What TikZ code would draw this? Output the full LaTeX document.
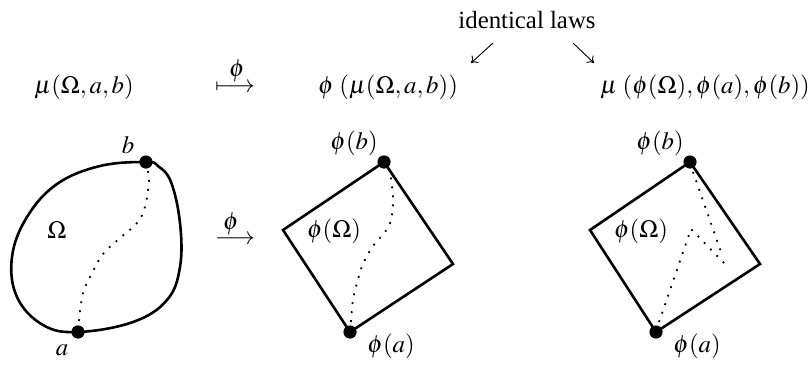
\documentclass[tikz,border=0pt]{standalone}
\usepackage{mathptmx}
\usepackage{fontspec}
\setmainfont{Liberation Serif}
\usetikzlibrary{arrows.meta}
\begin{document}
\begin{tikzpicture}[x=0.5pt,y=-0.5pt,
  every node/.style={font=\fontsize{12.4}{14}\selectfont, inner sep=0pt},
  outline/.style={line width=1.3pt, line join=miter},
  dotline/.style={line width=0.9pt, dash pattern=on 0.9pt off 3.6pt},
  pt/.style={circle, fill=black, minimum size=6.6pt, inner sep=0pt},
  lawarrow/.style={-{To[length=3pt,width=5pt]}, line width=0.45pt}]
\useasboundingbox (0,0) rectangle (812,365);
% top row
\node (laws) at (527,20) {identical laws};
\node[anchor=base] (muL) at (84,93) {$\mu(\Omega,a,b)$};
\node (mapsto) at (235,88) {$\longmapsto$};
\node (mapphi) at (237,71) {$\phi$};
\node[anchor=base] (phimu) at (388,93) {$\phi\,\left(\mu(\Omega,a,b)\right)$};
\node[anchor=base] (muphi) at (705,93) {$\mu\,\left(\phi(\Omega),\phi(a),\phi(b)\right)$};
\coordinate (l1) at (493,43); \coordinate (l2) at (471,63);
\coordinate (r1) at (573,43); \coordinate (r2) at (594,63);
\draw[lawarrow] (l1) -- (l2);
\draw[lawarrow] (r1) -- (r2);
% left blob
\coordinate (a) at (78,332);
\coordinate (b) at (146,162);
\draw[outline] plot[smooth cycle, tension=0.65] coordinates {(78,332) (133,322) (167,300) (180,267) (180,223) (171,182) (158,166) (146,162) (100,166) (57,184) (27,217) (12,257) (17,297) (43,325)};
\draw[dotline] plot[smooth, tension=0.6] coordinates {(79,321) (83,293) (92,273) (103,254) (120,238) (137,223) (145,207) (149,180) (147,168)};
\node[pt] (pa) at (a) {};
\node[pt] (pb) at (b) {};
\node (la) at (62,350) {$a$};
\node (lb) at (128,145) {$b$};
\node (lO) at (57,230) {$\Omega$};
\node (arr) at (235,240) {$\longrightarrow$};
\node (arrphi) at (231,224) {$\phi$};
% middle square
\coordinate (mB) at (384,162); \coordinate (mR) at (453,264);
\coordinate (mA) at (350,332); \coordinate (mL) at (283,230);
\draw[outline] (mB) -- (mR) -- (mA) -- (mL) -- cycle;
\draw[dotline] plot[smooth, tension=0.6] coordinates {(351,322) (353,300) (357,283) (363,264) (373,246) (385,232) (391,220) (393,198) (390,172)};
\node[pt] (mpa) at (mA) {};
\node[pt] (mpb) at (mB) {};
\node (mla) at (391,346) {$\phi(a)$};
\node (mlb) at (354,143) {$\phi(b)$};
\node (mlO) at (334,231) {$\phi(\Omega)$};
% right square
\coordinate (rB) at (690,162); \coordinate (rR) at (760,264);
\coordinate (rA) at (656,332); \coordinate (rL) at (590,230);
\draw[outline] (rB) -- (rR) -- (rA) -- (rL) -- cycle;
\coordinate (rp) at (691,229); \coordinate (re) at (726,265); \coordinate (rf) at (721,252);
\draw[dotline] (659,322) -- (rp) -- (re);
\draw[dotline] (693,172) -- (rf);
\node[pt] (rpa) at (rA) {};
\node[pt] (rpb) at (rB) {};
\node (rla) at (697,346) {$\phi(a)$};
\node (rlb) at (660,143) {$\phi(b)$};
\node (rlO) at (641,231) {$\phi(\Omega)$};
\end{tikzpicture}
\end{document}
